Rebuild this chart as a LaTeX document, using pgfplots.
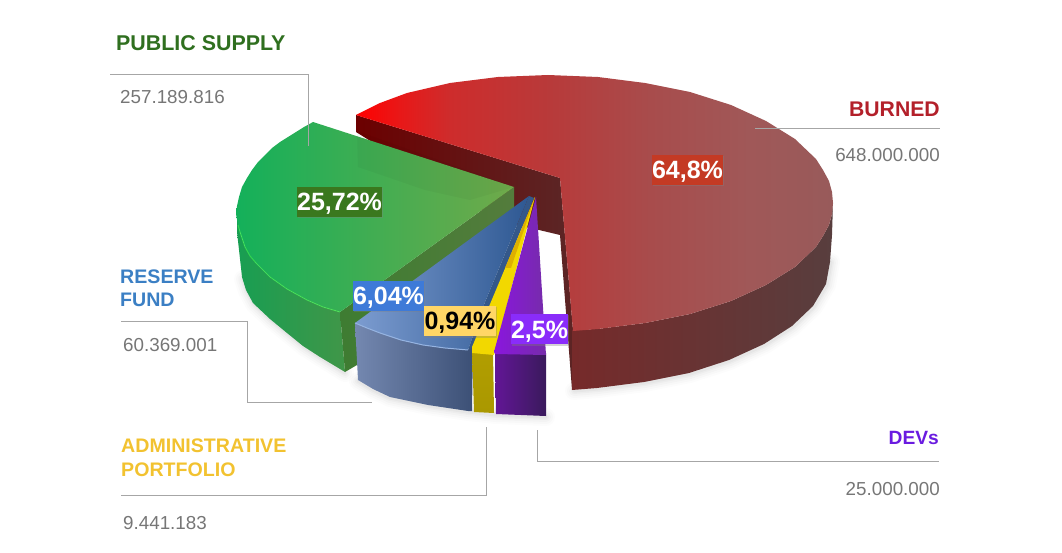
\documentclass[border=0pt]{standalone}
\usepackage{pgfplots}
\pgfplotsset{compat=1.18}
\usepackage{fontspec}
\setmainfont{Liberation Sans}
\usetikzlibrary{shadows}
\definecolor{leader}{HTML}{A6A6A6}
\definecolor{valgray}{HTML}{767676}
\definecolor{ra}{HTML}{FF0000}\definecolor{rb}{HTML}{E81818}\definecolor{rc}{HTML}{CE2C2C}\definecolor{rd}{HTML}{B83A3A}\definecolor{re}{HTML}{A84C4C}\definecolor{rf}{HTML}{A05858}\definecolor{rg}{HTML}{985A5A}
\pgfdeclarehorizontalshading{redtop}{100bp}{color(0bp)=(ra); color(25bp)=(ra); color(29.6bp)=(rb); color(34.8bp)=(rc); color(45.3bp)=(rd); color(55.8bp)=(re); color(66.3bp)=(rf); color(75bp)=(rg); color(100bp)=(rg)}
\newcommand{\pct}[6]{\node[fill=#4,text=#5,font=\fontsize{25}{27}\bfseries\selectfont,minimum width=#6pt,text height=24pt,text depth=6pt,inner sep=0pt,drop shadow={shadow xshift=1pt,shadow yshift=-1.5pt,opacity=.35}] at (axis cs:#1,#2) {#3};}
\newcommand{\shad}[2]{%
\addplot[draw=black,opacity=#2,line width=#1pt,line join=round,line cap=round] coordinates {(831,262)(827,285)(814,307)(793,327)(765,345)(730,361)(690,374)(645,383)(598,389)(574,391)};
\addplot[draw=black,opacity=#2,line width=#1pt,line join=round,line cap=round] coordinates {(243,279)(247,291)(254,304)(271,320)(288,334)(304,347)(321,358)(345,373)};
\addplot[draw=black,opacity=#2,line width=#1pt,line join=round,line cap=round] coordinates {(358,381)(373,390)(390,398)(428,406)(468,412)(496,415)(546,417)};
}
\begin{document}
\begin{tikzpicture}
\path[use as bounding box] (0,0) rectangle (1062pt,553pt);
\begin{axis}[at={(0,0)},anchor=south west,scale only axis,width=1062pt,height=553pt,
  xmin=0,xmax=1062,ymin=0,ymax=553,y dir=reverse,hide axis,clip=false]
% soft shadows
\shad{18}{.012}
\shad{14}{.015}
\shad{10}{.02}
\shad{6}{.025}
\shad{3}{.03}
% red wall
\addplot[draw=none,left color={rgb,255:red,108;green,0;blue,0},right color={rgb,255:red,92;green,36;blue,36}] coordinates {(356,115)(560,178)(560,235)(539,230)(500,222)(356,132)};
\addplot[draw=none,fill={rgb,255:red,92;green,36;blue,36}] coordinates {(560,178)(573,330)(572,390)(560,235)};
% red side
\addplot[draw=none,left color={rgb,255:red,118;green,42;blue,42},right color={rgb,255:red,88;green,62;blue,62}] coordinates {(572,330)(597,329)(645,323)(690,314)(731,301)(766,285)(795,267)(816,247)(823,236)(829,225)(832,214)(833,203)(832,235)(830,262)(826,284)(813,306)(792,326)(764,344)(729,360)(689,373)(644,382)(597,388)(572,390)};
% red top
\addplot[draw=none,shading=redtop] coordinates {(356,115)(380,103)(407,93)(450,83)(498,77)(548,75)(598,77)(645,83)(690,92)(731,105)(766,121)(795,139)(816,159)(823,170)(829,181)(832,192)(833,203)(832,214)(829,225)(823,236)(816,247)(795,267)(766,285)(731,301)(690,314)(645,323)(598,329)(573,331)(560,178)};
% green side
\addplot[draw=none,left color={rgb,255:red,24;green,158;blue,82},right color={rgb,255:red,64;green,150;blue,72}] coordinates {(237,217)(240,232)(245,247)(256,263)(270,277)(287,289)(307,300)(323,307)(340,312)(345,372)(320,357)(303,346)(287,333)(270,319)(253,303)(246,290)(242,277)(239,250)(237,232)};
% green wall
\addplot[draw=none,left color={rgb,255:red,62;green,124;blue,50},right color={rgb,255:red,84;green,124;blue,60}] coordinates {(340,312)(514,187)(514,230)(357,365)(345,372)};
% green top
\addplot[draw=none,left color={rgb,255:red,20;green,176;blue,90},right color={rgb,255:red,112;green,170;blue,74}] coordinates {(313,122)(304,127)(296,132)(288,137)(280,142)(272,148)(265,155)(258,162)(252,170)(247,178)(242,187)(239,197)(237,206)(236,214)(238,225)(240,232)(245,247)(250,256)(256,263)(263,270)(270,277)(287,289)(307,300)(323,307)(340,312)(514,187)};
\addplot[draw=none,fill=black,opacity=.03] coordinates {(357,131)(358,167)(425,190)(470,200)(514,187)};
\addplot[draw=green!70!white,opacity=.5,line width=1pt] coordinates {(238,225)(240,232)(245,247)(250,256)(256,263)(263,270)(270,277)(287,289)(307,300)(323,307)(340,312)};
% blue side
\addplot[draw=none,left color={rgb,255:red,116;green,136;blue,176},right color={rgb,255:red,60;green,80;blue,118}] coordinates {(355,323)(367,328)(380,333)(401,340)(423,345)(445,348)(468,350)(473,345)(472,411)(468,411)(428,405)(390,397)(373,389)(358,380)};
% blue top
\addplot[draw=none,left color={rgb,255:red,124;green,156;blue,208},right color={rgb,255:red,46;green,88;blue,146}] coordinates {(355,323)(367,328)(380,333)(401,340)(423,345)(445,348)(468,350)(485,302)(529,196)};
\addplot[draw=none,fill={rgb,255:red,52;green,88;blue,138}] coordinates {(529,196)(485,302)(468,350)(474,346)(534,198)};
\addplot[draw={rgb,255:red,150;green,180;blue,226},line width=1pt] coordinates {(355,323)(367,328)(380,333)(401,340)(423,345)(445,348)(468,350)};
% yellow
\addplot[draw=none,top color={rgb,255:red,178;green,158;blue,0},bottom color={rgb,255:red,170;green,152;blue,0}] coordinates {(472,349)(493,352)(494,413)(474,412)};
\addplot[draw=none,fill={rgb,255:red,242;green,216;blue,0}] coordinates {(535,197)(472,347)(472,353)(494,355)};
\addplot[draw=none,fill={rgb,255:red,222;green,176;blue,0}] coordinates {(535,197)(505,268)(511,268)};
% purple
\addplot[draw=none,left color={rgb,255:red,98;green,22;blue,150},right color={rgb,255:red,58;green,26;blue,92}] coordinates {(495,352)(546,353)(546,416)(496,414)};
\addplot[draw=none,left color={rgb,255:red,138;green,22;blue,222},right color={rgb,255:red,118;green,44;blue,170}] coordinates {(536,197)(494,352)(495,354)(546,355)};
% leader lines
\addplot[draw=leader,line width=.9pt] coordinates {(110,74)(308,74)(308,146)};
\addplot[draw=leader,line width=.9pt] coordinates {(755,128)(940,128)};
\addplot[draw=leader,line width=.9pt] coordinates {(121,321)(247,321)(247,402)(372,402)};
\addplot[draw=leader,line width=.9pt] coordinates {(121,495)(486,495)(486,427)};
\addplot[draw=leader,line width=.9pt] coordinates {(537,430)(537,461)(939,461)};
% percentage labels
\pct{687.5}{170}{64,8\%}{{rgb,255:red,196;green,58;blue,36}}{white}{71}
\pct{339.5}{202}{25,72\%}{{rgb,255:red,58;green,120;blue,30}}{white}{85}
\pct{388.5}{296}{6,04\%}{{rgb,255:red,62;green,122;blue,216}}{white}{71}
\pct{460}{321}{0,94\%}{{rgb,255:red,255;green,214;blue,102}}{black}{72}
\pct{539.5}{329}{2,5\%}{{rgb,255:red,138;green,44;blue,250}}{white}{57}
% side labels
\tikzset{hd/.style={anchor=base west,inner sep=0pt,font=\fontsize{#1}{22}\bfseries\selectfont},
 hdr/.style={anchor=base east,inner sep=0pt,font=\fontsize{#1}{22}\bfseries\selectfont},
 vl/.style={anchor=base west,inner sep=0pt,text=valgray,font=\fontsize{18.8}{20}\selectfont},
 vr/.style={anchor=base east,inner sep=0pt,text=valgray,font=\fontsize{18.8}{20}\selectfont}}
\definecolor{cgreen}{HTML}{2F6F1F}\definecolor{cred}{HTML}{B3202A}\definecolor{cblue}{HTML}{3B7FC4}\definecolor{cyel}{HTML}{F2C230}\definecolor{cpur}{HTML}{6A1BE0}
\node[hd=21.4,text=cgreen] at (axis cs:116,51) {PUBLIC SUPPLY};
\node[vl] at (axis cs:120,104) {257.189.816};
\node[hdr=21.2,text=cred] at (axis cs:940,117) {BURNED};
\node[vr] at (axis cs:940,162) {648.000.000};
\node[hd=19.6,text=cblue] at (axis cs:120,284) {RESERVE};
\node[hd=19.6,text=cblue] at (axis cs:120,307) {FUND};
\node[vl] at (axis cs:123,351) {60.369.001};
\node[hd=19.6,text=cyel] at (axis cs:121,452) {ADMINISTRATIVE};
\node[hd=19.6,text=cyel] at (axis cs:121,476) {PORTFOLIO};
\node[vl] at (axis cs:123,529) {9.441.183};
\node[hdr=19.2,text=cpur] at (axis cs:939,444) {DEVs};
\node[vr] at (axis cs:940,495) {25.000.000};
\end{axis}
\end{tikzpicture}
\end{document}
